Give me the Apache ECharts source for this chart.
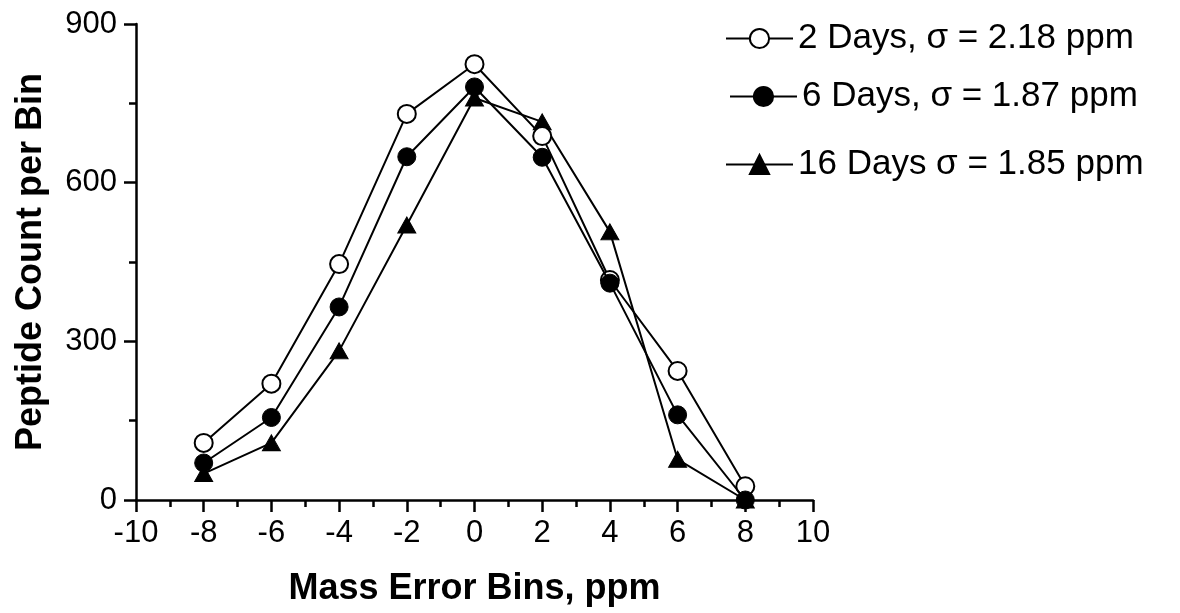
<!DOCTYPE html>
<html lang="en">
<head>
    <meta charset="UTF-8">
    <title>Mass error bins</title>
    <script src="https://cdn.jsdelivr.net/npm/echarts@6/dist/echarts.min.js"></script>
    <style>
        html, body { margin: 0; padding: 0; background: #fff; }
        #main { width: 1180px; height: 613px; }
    </style>
</head>
<body>
<div id="main"></div>
<script type="text/javascript">
    // mass error bin centres (ppm)
    var bins = [-8, -6, -4, -2, 0, 2, 4, 6, 8];
    // peptide count per bin
    var days2 = [108, 220, 446, 730, 824, 688, 416, 244, 26];
    var days6 = [70, 156, 365, 649, 781, 648, 410, 161, 0];
    var days16 = [50, 108, 282, 520, 760, 715, 507, 77, 0];
    var names = ['2 Days, \u03c3 = 2.18 ppm', '6 Days, \u03c3 = 1.87 ppm', '16 Days \u03c3 = 1.85 ppm'];

    function pairs(vals) {
        var out = [];
        for (var i = 0; i < bins.length; i++) {
            out.push([bins[i], vals[i]]);
        }
        return out;
    }

    var font = 'Liberation Sans, Arial, sans-serif';

    // one legend per row, the rows are not evenly spaced in the original
    function legendAt(name, left, top) {
        return {
            data: [name],
            left: left,
            top: top,
            padding: 0,
            orient: 'vertical',
            itemWidth: 67,
            itemHeight: 24,
            selectedMode: false,
            textStyle: { fontFamily: font, fontSize: 35, color: '#000' }
        };
    }

    var myChart = echarts.init(document.getElementById('main'));

    function axisCommon() {
        return {
            splitLine: { show: false },
            axisLine: { onZero: false, lineStyle: { color: '#000', width: 2.5 } },
            axisTick: { length: 12, lineStyle: { color: '#000', width: 2.5 } },
            minorTick: { show: true, splitNumber: 2, length: 7, lineStyle: { color: '#000', width: 2.5 } },
            nameLocation: 'middle',
            nameTextStyle: { fontFamily: font, fontSize: 36, fontWeight: 'bold', color: '#000' }
        };
    }

    var option = {
        animation: false,
        backgroundColor: '#fff',
        grid: { left: 136, top: 24, width: 677, height: 476 },
        legend: [
            legendAt(names[0], 725, 21),
            legendAt(names[1], 729, 79),
            legendAt(names[2], 725, 147)
        ],
        xAxis: echarts.util.merge({
            type: 'value',
            min: -10,
            max: 10,
            interval: 2,
            name: 'Mass Error Bins, ppm',
            nameGap: 71,
            axisLabel: { margin: 18, fontFamily: font, fontSize: 31, color: '#000' }
        }, axisCommon()),
        yAxis: echarts.util.merge({
            type: 'value',
            min: 0,
            max: 900,
            interval: 300,
            name: 'Peptide Count per Bin',
            nameGap: 87,
            axisLabel: { margin: 19, fontFamily: font, fontSize: 31, color: '#000' }
        }, axisCommon()),
        series: [
            {
                name: names[0],
                type: 'line',
                data: pairs(days2),
                symbol: 'circle',
                symbolSize: 18,
                color: '#000',
                lineStyle: { color: '#000', width: 2 },
                itemStyle: { color: '#fff', borderColor: '#000', borderWidth: 2 },
                z: 3
            },
            {
                name: names[1],
                type: 'line',
                data: pairs(days6),
                symbol: 'circle',
                symbolSize: 18,
                color: '#000',
                lineStyle: { color: '#000', width: 2 },
                itemStyle: { color: '#000', borderColor: '#000', borderWidth: 1 },
                z: 4
            },
            {
                name: names[2],
                type: 'line',
                data: pairs(days16),
                symbol: 'triangle',
                symbolSize: [18, 16],
                color: '#000',
                lineStyle: { color: '#000', width: 2 },
                itemStyle: { color: '#000', borderColor: '#000', borderWidth: 1 },
                z: 2
            }
        ]
    };

    myChart.setOption(option);
</script>
</body>
</html>
